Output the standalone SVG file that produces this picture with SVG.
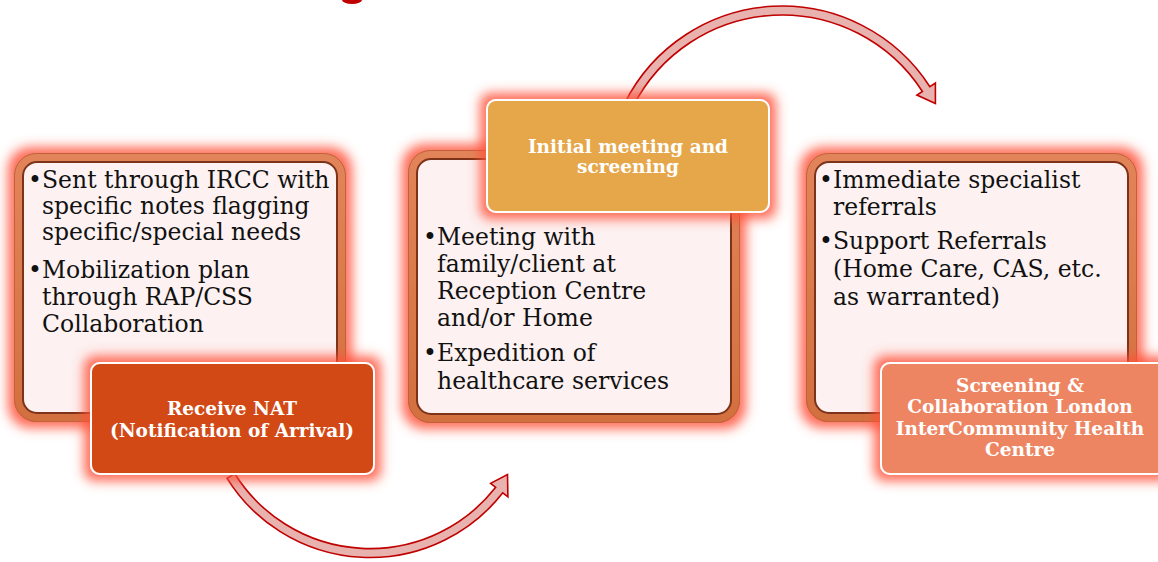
<svg xmlns="http://www.w3.org/2000/svg" width="1158" height="562" viewBox="0 0 1158 562">
<defs>
<filter id="glow" x="-25%" y="-25%" width="150%" height="150%">
<feMorphology in="SourceAlpha" operator="dilate" radius="6" result="d"/>
<feGaussianBlur in="d" stdDeviation="6" result="b"/>
<feFlood flood-color="#ff5038" flood-opacity="0.85"/>
<feComposite in2="b" operator="in" result="g"/>
<feMerge><feMergeNode in="g"/><feMergeNode in="SourceGraphic"/></feMerge>
</filter>
<linearGradient id="fr" x1="0" y1="0" x2="0" y2="1">
<stop offset="0" stop-color="#e2845a"/>
<stop offset="1" stop-color="#d2703f"/>
</linearGradient>
<style>
.body{font-family:"DejaVu Serif","Liberation Serif",serif;font-size:23.5px;fill:#111}
.lab{font-family:"DejaVu Serif","Liberation Serif",serif;font-size:18.5px;font-weight:bold;fill:#fff;text-anchor:middle}
.frame{fill:#fdf1f1;stroke:url(#fr);stroke-width:9}
.inner{fill:none;stroke:#7d3319;stroke-width:2}
.outer{fill:none;stroke:#c2603a;stroke-width:1}
.arrow{fill:#e8b2ae;stroke:#c00000;stroke-width:1.6;stroke-linejoin:miter}
.tag{stroke:#fff;stroke-width:2}
</style>
</defs>
<rect width="1158" height="562" fill="#fff"/>
<ellipse cx="352" cy="0" rx="10" ry="4" fill="#c00000"/>

<g id="box1">
<g filter="url(#glow)">
<rect class="frame" x="18.5" y="157.5" width="323" height="260" rx="18"/>
</g>
<rect class="outer" x="14.5" y="153.5" width="331" height="268" rx="22"/>
<rect class="inner" x="23" y="162" width="314" height="251" rx="14"/>
<text class="body"><tspan x="28" y="188">•</tspan><tspan x="42" y="188">Sent through IRCC with</tspan><tspan x="42" y="214">specific notes flagging</tspan><tspan x="42" y="240">specific/special needs</tspan><tspan x="28" y="278">•</tspan><tspan x="42" y="278">Mobilization plan</tspan><tspan x="42" y="305">through RAP/CSS</tspan><tspan x="42" y="332">Collaboration</tspan></text>
</g>

<g id="box2">
<g filter="url(#glow)">
<rect class="frame" x="412.5" y="154.5" width="323" height="264" rx="18"/>
</g>
<rect class="outer" x="408.5" y="150.5" width="331" height="272" rx="22"/>
<rect class="inner" x="417" y="159" width="314" height="255" rx="14"/>
<text class="body"><tspan x="423" y="245">•</tspan><tspan x="437" y="245">Meeting with</tspan><tspan x="437" y="272">family/client at</tspan><tspan x="437" y="299">Reception Centre</tspan><tspan x="437" y="326">and/or Home</tspan><tspan x="423" y="361">•</tspan><tspan x="437" y="361">Expedition of</tspan><tspan x="437" y="389">healthcare services</tspan></text>
</g>

<g id="box3">
<g filter="url(#glow)">
<rect class="frame" x="810.5" y="157.5" width="322" height="260" rx="18"/>
</g>
<rect class="outer" x="806.5" y="153.5" width="330" height="268" rx="22"/>
<rect class="inner" x="815" y="162" width="313" height="251" rx="14"/>
<text class="body"><tspan x="819" y="188">•</tspan><tspan x="833" y="188">Immediate specialist</tspan><tspan x="833" y="215">referrals</tspan><tspan x="819" y="249">•</tspan><tspan x="833" y="249">Support Referrals</tspan><tspan x="833" y="277">(Home Care, CAS, etc.</tspan><tspan x="833" y="305">as warranted)</tspan></text>
</g>

<g id="connectors">
<path class="arrow" d="M227.1,478.3 A168.5,168.5 0 0 0 502.8,492.8 L507.9,496.8 L507.5,474.5 L490.6,483.3 L495.7,487.3 A159.5,159.5 0 0 1 234.7,473.5 Z"/>
<path class="arrow" d="M624.8,102.9 A176,176 0 0 1 929.9,86.7 L935.4,83.1 L935.4,103.4 L916.9,95.1 L922.4,91.5 A167,167 0 0 0 632.8,107.0 Z"/>
</g>

<g id="label1">
<rect class="tag" x="91" y="363" width="283" height="111" rx="9" fill="#d24a19" filter="url(#glow)"/>
<text class="lab"><tspan x="232" y="415">Receive NAT</tspan><tspan x="232" y="437">(Notification of Arrival)</tspan></text>
</g>

<g id="label2">
<rect class="tag" x="487" y="100" width="282" height="112" rx="9" fill="#e5a749" filter="url(#glow)"/>
<text class="lab"><tspan x="628" y="153">Initial meeting and</tspan><tspan x="628" y="173">screening</tspan></text>
</g>

<g id="label3">
<rect class="tag" x="881" y="363" width="285" height="111" rx="9" fill="#ee8562" filter="url(#glow)"/>
<text class="lab"><tspan x="1020" y="392">Screening &amp;</tspan><tspan x="1020" y="413">Collaboration London</tspan><tspan x="1020" y="435">InterCommunity Health</tspan><tspan x="1020" y="456">Centre</tspan></text>
</g>
</svg>
